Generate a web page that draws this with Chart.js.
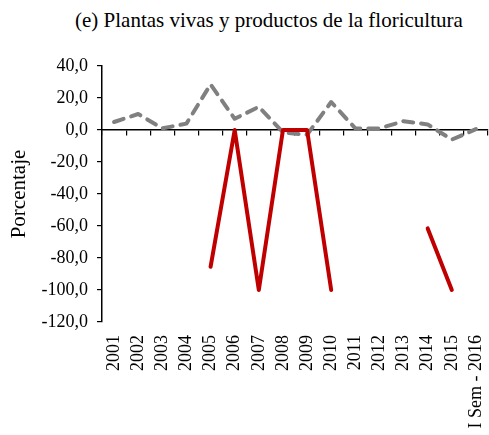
<!DOCTYPE html>
<html>
<head>
<meta charset="utf-8">
<script src="https://cdn.jsdelivr.net/npm/chart.js@4/dist/chart.umd.min.js"></script>
<style>
  html, body { margin: 0; padding: 0; background: #fff; }
  #wrap { position: relative; width: 489px; height: 435px; }
  #title {
    position: absolute; left: 75px; top: 10px;
    font: 21px/21px "Liberation Serif", serif; color: #000; white-space: nowrap;
  }
  canvas { position: absolute; left: 0; top: 0; }
</style>
</head>
<body>
<div id="wrap">
  <div id="title">(e) Plantas vivas y productos de la floricultura</div>
  <canvas id="chart" width="489" height="435"></canvas>
</div>
<script>
// Categories
const years = ['2001', '2002', '2003', '2004', '2005', '2006', '2007', '2008',
  '2009', '2010', '2011', '2012', '2013', '2014', '2015', 'I Sem - 2016'];

// Series values (percentage)
const serieGris = [5.0, 10.0, 1.0, 4.0, 28.5, 7.0, 14.5, -1.5, -3.0, 17.5,
  1.0, 1.0, 5.5, 3.5, -6.0, 0.5];
const serieRoja = [null, null, null, null, -85.5, 0, -100, 0, 0, -100,
  null, null, null, -61.5, -100, null];

// Y axis ticks
const yMin = -120;
const yMax = 40;
const yStep = 20;

const serif = '"Liberation Serif", serif';

const chartEl = document.getElementById('chart').getContext('2d');

const config = {
  type: 'line',
  data: {
    labels: years,
    datasets: [
      {
        label: 'Serie 1',
        data: serieRoja,
        borderColor: '#C00000',
        borderWidth: 4,
        borderJoinStyle: 'round',
        borderCapStyle: 'round',
        pointRadius: 0,
        spanGaps: false,
        tension: 0,
        xAxisID: 'x',
      },
      {
        label: 'Serie 2',
        data: serieGris,
        borderColor: '#808080',
        borderWidth: 4,
        borderDash: [10, 8],
        borderCapStyle: 'round',
        borderJoinStyle: 'round',
        pointRadius: 0,
        tension: 0,
        xAxisID: 'x',
      }
    ]
  },
  options: {
    responsive: false,
    animation: false,
    layout: { padding: { top: 66, right: 1, left: 0, bottom: 0 } },
    plugins: {
      legend: { display: false },
      tooltip: { enabled: false },
    },
    scales: {
      x: {
        type: 'category',
        position: 'bottom',
        offset: true,
        border: { display: false },
        grid: { display: false },
        ticks: {
          autoSkip: false,
          minRotation: 90,
          maxRotation: 90,
          padding: 5,
          color: '#000',
          font: { family: serif, size: 18 },
        },
        afterFit: (scale) => {
          scale.height = 113;
          scale.paddingLeft = 0;
          scale.paddingRight = 0;
        },
      },
      x2: {
        type: 'category',
        labels: years,
        position: { y: 0 },
        offset: true,
        border: { display: true, color: '#000', width: 1.5 },
        grid: {
          offset: true,
          drawOnChartArea: false,
          drawTicks: true,
          tickLength: 5,
          color: '#000',
          lineWidth: 1.2,
        },
        ticks: { display: false },
      },
      y: {
        min: yMin,
        max: yMax,
        border: { display: true, color: '#000', width: 1.5 },
        grid: {
          drawOnChartArea: false,
          drawTicks: true,
          tickLength: 5,
          color: '#000',
          lineWidth: 1.2,
        },
        ticks: {
          stepSize: yStep,
          padding: 9,
          color: '#000',
          font: { family: serif, size: 18 },
          callback: (v) => v.toFixed(1).replace('.', ','),
        },
        title: {
          display: true,
          text: 'Porcentaje',
          color: '#000',
          font: { family: serif, size: 21 },
          padding: { top: 7, bottom: 0 },
        },
        afterFit: (scale) => { scale.width = 102; },
      }
    }
  }
};

new Chart(chartEl, config);
</script>
</body>
</html>
